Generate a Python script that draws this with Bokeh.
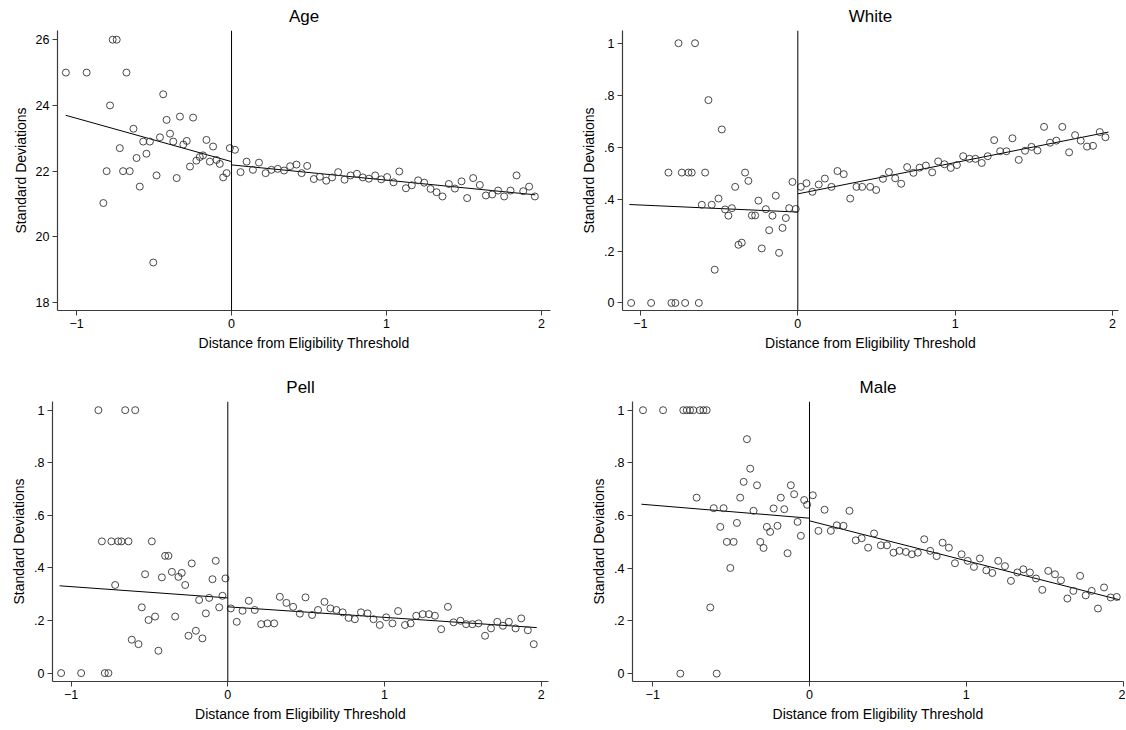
from bokeh.plotting import figure
from bokeh.layouts import column, row
from bokeh.models import Span, FixedTicker, CustomJSTickFormatter
from bokeh.embed import file_html
from bokeh.resources import INLINE

FONT = "Liberation Sans"

x_ticks = [-1, 0, 1, 2]
age_ticks = [18, 20, 22, 24, 26]
prop_ticks = [0, 0.2, 0.4, 0.6, 0.8, 1]

# ---------------- Age ----------------
age_x = [-1.069, -0.935, -0.827, -0.806, -0.784, -0.767, -0.741, -0.721, -0.700, -0.678,
         -0.657, -0.633, -0.613, -0.592, -0.570, -0.549, -0.527, -0.505, -0.484, -0.462,
         -0.441, -0.419, -0.397, -0.376, -0.354, -0.333, -0.311, -0.289, -0.268, -0.248,
         -0.227, -0.205, -0.184, -0.162, -0.140, -0.119, -0.097, -0.076, -0.054, -0.032,
         -0.011, 0.022, 0.058, 0.097, 0.138, 0.177, 0.220, 0.257, 0.298, 0.339,
         0.378, 0.419, 0.452, 0.488, 0.531, 0.570, 0.611, 0.649, 0.688, 0.729,
         0.768, 0.809, 0.847, 0.886, 0.927, 0.966, 1.004, 1.045, 1.082, 1.125,
         1.163, 1.204, 1.243, 1.284, 1.323, 1.361, 1.402, 1.441, 1.484, 1.520,
         1.559, 1.602, 1.641, 1.682, 1.720, 1.759, 1.800, 1.839, 1.882, 1.920,
         1.957]
age_y = [25.0, 25.0, 21.03, 22.0, 24.0, 26.0, 26.0, 22.7, 22.0, 25.0,
         22.0, 23.29, 22.4, 21.53, 22.9, 22.53, 22.9, 19.22, 21.87, 23.03,
         24.34, 23.56, 23.14, 22.9, 21.79, 23.66, 22.81, 22.92, 22.14, 23.63,
         22.32, 22.43, 22.48, 22.95, 22.29, 22.75, 22.34, 22.22, 21.81, 21.94,
         22.70, 22.65, 21.97, 22.29, 22.04, 22.26, 21.94, 22.04, 22.07, 22.02,
         22.15, 22.20, 21.94, 22.16, 21.76, 21.83, 21.71, 21.81, 21.97, 21.74,
         21.87, 21.92, 21.81, 21.77, 21.87, 21.75, 21.82, 21.66, 21.99, 21.48,
         21.57, 21.72, 21.65, 21.46, 21.36, 21.23, 21.61, 21.47, 21.69, 21.18,
         21.79, 21.58, 21.26, 21.29, 21.41, 21.23, 21.41, 21.87, 21.39, 21.53,
         21.23]
age_fit_left_x = [-1.07, 0.0]
age_fit_left_y = [23.70, 22.29]
age_fit_right_x = [0.0, 1.96]
age_fit_right_y = [22.19, 21.28]

# ---------------- White ----------------
white_x = [-1.059, -0.932, -0.822, -0.803, -0.778, -0.758, -0.737, -0.716, -0.695, -0.674,
           -0.653, -0.629, -0.610, -0.589, -0.568, -0.547, -0.528, -0.504, -0.483, -0.462,
           -0.441, -0.419, -0.398, -0.377, -0.356, -0.335, -0.314, -0.292, -0.271, -0.250,
           -0.229, -0.203, -0.182, -0.161, -0.140, -0.119, -0.097, -0.076, -0.055, -0.034,
           -0.013, 0.019, 0.055, 0.093, 0.133, 0.172, 0.214, 0.252, 0.292, 0.333,
           0.373, 0.409, 0.460, 0.498, 0.541, 0.579, 0.619, 0.657, 0.695, 0.735,
           0.774, 0.814, 0.854, 0.892, 0.932, 0.972, 1.011, 1.051, 1.091, 1.129,
           1.169, 1.207, 1.248, 1.286, 1.326, 1.364, 1.404, 1.444, 1.485, 1.523,
           1.565, 1.603, 1.643, 1.681, 1.724, 1.762, 1.798, 1.838, 1.876, 1.919,
           1.955]
white_y = [0.0, 0.0, 0.502, 0.0, 0.0, 1.0, 0.502, 0.0, 0.502, 0.502,
           1.0, 0.0, 0.378, 0.502, 0.781, 0.378, 0.128, 0.402, 0.668, 0.360,
           0.336, 0.365, 0.447, 0.224, 0.232, 0.502, 0.470, 0.337, 0.337, 0.394,
           0.210, 0.361, 0.280, 0.336, 0.413, 0.193, 0.289, 0.327, 0.365, 0.466,
           0.362, 0.447, 0.461, 0.428, 0.456, 0.479, 0.447, 0.508, 0.496, 0.402,
           0.447, 0.447, 0.447, 0.435, 0.478, 0.504, 0.480, 0.459, 0.523, 0.501,
           0.521, 0.529, 0.503, 0.545, 0.534, 0.520, 0.531, 0.565, 0.555, 0.555,
           0.539, 0.565, 0.627, 0.584, 0.584, 0.634, 0.551, 0.586, 0.601, 0.587,
           0.678, 0.617, 0.625, 0.678, 0.580, 0.646, 0.625, 0.602, 0.605, 0.658,
           0.638]
white_fit_left_x = [-1.07, 0.0]
white_fit_left_y = [0.379, 0.350]
white_fit_right_x = [0.0, 1.974]
white_fit_right_y = [0.420, 0.658]

# ---------------- Pell ----------------
pell_x = [-1.064, -0.936, -0.826, -0.804, -0.785, -0.762, -0.743, -0.719, -0.700, -0.679,
          -0.655, -0.634, -0.613, -0.591, -0.570, -0.549, -0.528, -0.506, -0.485, -0.464,
          -0.443, -0.421, -0.400, -0.379, -0.357, -0.336, -0.315, -0.294, -0.272, -0.251,
          -0.230, -0.204, -0.183, -0.162, -0.140, -0.119, -0.098, -0.077, -0.055, -0.034,
          -0.015, 0.019, 0.057, 0.094, 0.134, 0.172, 0.213, 0.253, 0.296, 0.332,
          0.374, 0.417, 0.460, 0.496, 0.538, 0.576, 0.617, 0.655, 0.693, 0.733,
          0.771, 0.811, 0.850, 0.892, 0.930, 0.970, 1.011, 1.051, 1.087, 1.131,
          1.167, 1.203, 1.244, 1.284, 1.322, 1.362, 1.405, 1.441, 1.485, 1.521,
          1.561, 1.600, 1.642, 1.680, 1.720, 1.756, 1.794, 1.837, 1.873, 1.915,
          1.953]
pell_y = [0.0, 0.0, 1.0, 0.501, 0.0, 0.0, 0.501, 0.335, 0.501, 0.501,
          1.0, 0.501, 0.127, 1.0, 0.110, 0.250, 0.376, 0.202, 0.501, 0.215,
          0.085, 0.364, 0.446, 0.446, 0.385, 0.215, 0.366, 0.381, 0.335, 0.142,
          0.417, 0.161, 0.278, 0.132, 0.227, 0.286, 0.357, 0.427, 0.250, 0.294,
          0.360, 0.246, 0.195, 0.237, 0.275, 0.240, 0.186, 0.189, 0.189, 0.290,
          0.267, 0.252, 0.226, 0.288, 0.221, 0.240, 0.271, 0.246, 0.240, 0.231,
          0.210, 0.205, 0.231, 0.227, 0.205, 0.183, 0.212, 0.189, 0.236, 0.183,
          0.189, 0.218, 0.224, 0.224, 0.218, 0.167, 0.252, 0.193, 0.199, 0.186,
          0.186, 0.189, 0.142, 0.170, 0.195, 0.180, 0.195, 0.170, 0.208, 0.163,
          0.110]
pell_fit_left_x = [-1.074, 0.0]
pell_fit_left_y = [0.332, 0.286]
pell_fit_right_x = [0.0, 1.972]
pell_fit_right_y = [0.252, 0.173]

# ---------------- Male ----------------
male_x = [-1.062, -0.934, -0.824, -0.805, -0.783, -0.762, -0.741, -0.720, -0.699, -0.677,
          -0.656, -0.633, -0.611, -0.592, -0.569, -0.548, -0.527, -0.505, -0.484, -0.463,
          -0.442, -0.420, -0.399, -0.378, -0.357, -0.335, -0.314, -0.293, -0.272, -0.251,
          -0.229, -0.204, -0.183, -0.161, -0.140, -0.119, -0.098, -0.076, -0.055, -0.034,
          -0.015, 0.021, 0.057, 0.096, 0.136, 0.174, 0.217, 0.255, 0.295, 0.333,
          0.374, 0.412, 0.455, 0.494, 0.536, 0.574, 0.615, 0.653, 0.691, 0.732,
          0.770, 0.811, 0.849, 0.889, 0.928, 0.970, 1.009, 1.049, 1.087, 1.128,
          1.166, 1.204, 1.247, 1.285, 1.326, 1.364, 1.406, 1.445, 1.485, 1.523,
          1.566, 1.604, 1.645, 1.683, 1.726, 1.762, 1.800, 1.840, 1.879, 1.921,
          1.960]
male_y = [1.0, 1.0, 0.0, 1.0, 1.0, 1.0, 1.0, 0.668, 1.0, 1.0,
          1.0, 0.251, 0.628, 0.0, 0.557, 0.628, 0.500, 0.401, 0.500, 0.572,
          0.668, 0.728, 0.890, 0.778, 0.618, 0.715, 0.500, 0.477, 0.557, 0.538,
          0.627, 0.561, 0.668, 0.624, 0.457, 0.715, 0.681, 0.576, 0.523, 0.659,
          0.641, 0.677, 0.542, 0.622, 0.542, 0.563, 0.561, 0.618, 0.506, 0.514,
          0.478, 0.532, 0.487, 0.487, 0.459, 0.466, 0.462, 0.453, 0.459, 0.510,
          0.466, 0.446, 0.497, 0.478, 0.419, 0.453, 0.428, 0.405, 0.437, 0.392,
          0.382, 0.428, 0.408, 0.352, 0.384, 0.396, 0.384, 0.361, 0.318, 0.390,
          0.377, 0.354, 0.285, 0.314, 0.371, 0.297, 0.314, 0.247, 0.327, 0.289,
          0.291]
male_fit_left_x = [-1.072, 0.0]
male_fit_left_y = [0.643, 0.590]
male_fit_right_x = [0.0, 1.979]
male_fit_right_y = [0.580, 0.280]

PROP_FMT = CustomJSTickFormatter(code="""
if (Math.abs(tick) < 1e-9) { return "0"; }
if (Math.abs(tick - 1) < 1e-9) { return "1"; }
return tick.toFixed(1).replace(/^0/, "");
""")


def make_panel(title, px, py, flx, fly, frx, fry, xr, yr, yticks, prop,
               borders, frame_w):
    left, right, top, bottom = borders
    p = figure(frame_width=frame_w, frame_height=280, x_range=xr, y_range=yr,
               output_backend="svg", toolbar_location=None, title=title,
               min_border_left=left, min_border_right=right,
               min_border_top=top, min_border_bottom=bottom)
    p.outline_line_color = None
    p.grid.visible = False
    p.background_fill_color = "white"
    p.border_fill_color = "white"
    p.title.align = "center"
    p.title.text_font = FONT
    p.title.text_font_size = "17px"
    p.title.text_font_style = "normal"
    p.title.text_color = "black"
    p.title.standoff = 9

    p.xaxis.ticker = FixedTicker(ticks=x_ticks)
    p.yaxis.ticker = FixedTicker(ticks=yticks)
    if prop:
        p.yaxis.formatter = PROP_FMT
    p.xaxis.axis_label = "Distance from Eligibility Threshold"
    p.yaxis.axis_label = "Standard Deviations"
    for ax in (p.xaxis[0], p.yaxis[0]):
        ax.axis_label_text_font = FONT
        ax.axis_label_text_font_size = "14px"
        ax.axis_label_text_font_style = "normal"
        ax.axis_label_text_color = "black"
        ax.major_label_text_font = FONT
        ax.major_label_text_font_size = "12.5px"
        ax.major_label_text_color = "black"
        ax.major_tick_out = 5
        ax.major_tick_in = 0
        ax.minor_tick_out = 0
        ax.minor_tick_in = 0
        ax.axis_line_color = "#3c3c3c"
        ax.axis_line_width = 1.2
        ax.major_tick_line_color = "#3c3c3c"
        ax.major_label_standoff = 3
        ax.axis_label_standoff = 4

    p.add_layout(Span(location=0, dimension="height", line_color="black",
                      line_width=1))
    p.line(flx, fly, line_color="black", line_width=1)
    p.line(frx, fry, line_color="black", line_width=1)
    p.scatter(px, py, marker="circle", size=7, fill_color=None,
              line_color="#333333", line_width=0.9)
    return p


# borders: (left, right, top, bottom)
p1 = make_panel("Age", age_x, age_y, age_fit_left_x, age_fit_left_y,
                age_fit_right_x, age_fit_right_y, (-1.123, 2.058), (17.76, 26.28),
                age_ticks, False, (57, 22, 30, 45), 493)
p2 = make_panel("White", white_x, white_y, white_fit_left_x, white_fit_left_y,
                white_fit_right_x, white_fit_right_y, (-1.114, 2.038), (-0.029, 1.049),
                prop_ticks, True, (50, 6, 30, 45), 496)
p3 = make_panel("Pell", pell_x, pell_y, pell_fit_left_x, pell_fit_left_y,
                pell_fit_right_x, pell_fit_right_y, (-1.119, 2.047), (-0.032, 1.033),
                prop_ticks, True, (52, 34, 46, 47), 496)
p4 = make_panel("Male", male_x, male_y, male_fit_left_x, male_fit_left_y,
                male_fit_right_x, male_fit_right_y, (-1.129, 2.003), (-0.030, 1.033),
                prop_ticks, True, (50, 2, 42, 47), 491)

layout = column(row(p1, p2), row(p3, p4))
open("out.html", "w").write(file_html(layout, INLINE))
